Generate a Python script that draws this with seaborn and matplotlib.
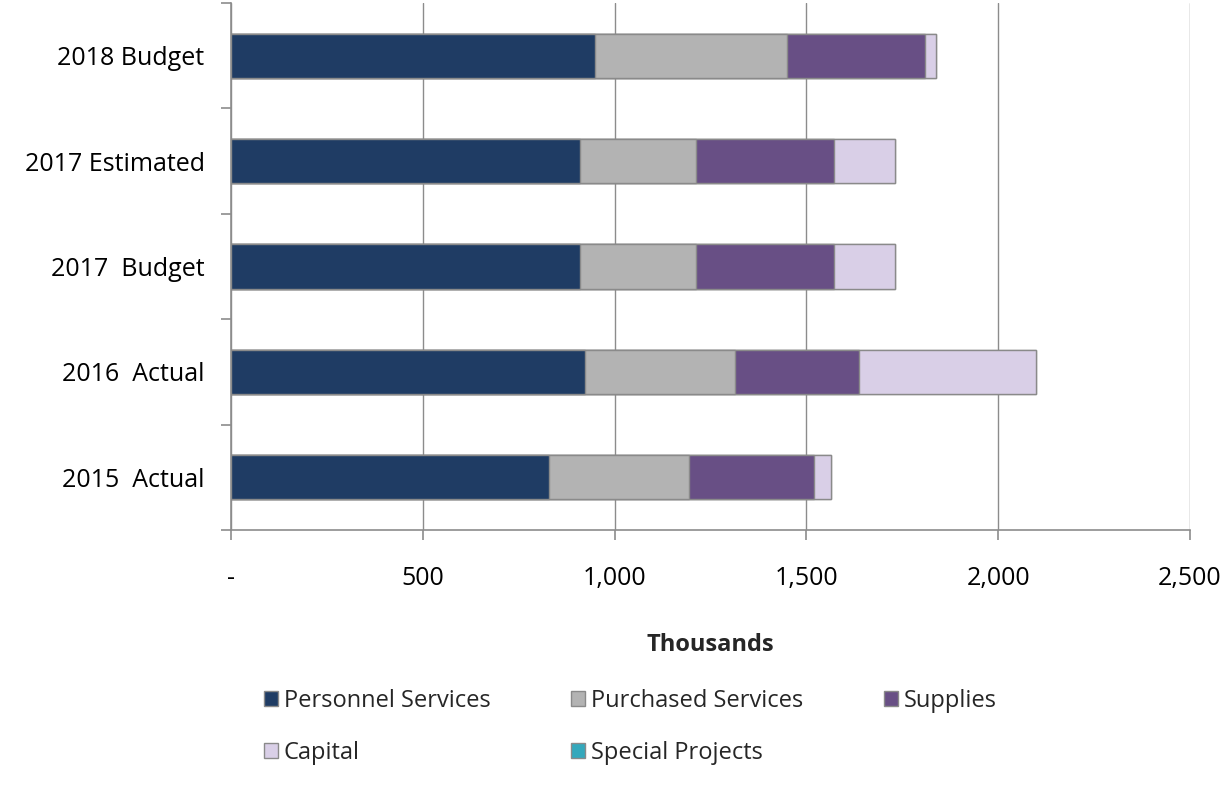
import numpy as np
import pandas as pd
import matplotlib
matplotlib.use("Agg")
import matplotlib.pyplot as plt
from matplotlib.patches import Patch
from matplotlib.ticker import FixedLocator, FuncFormatter
import seaborn as sns

# values in thousands
years = ["2018 Budget", "2017 Estimated", "2017  Budget", "2016  Actual", "2015  Actual"]
personnel = [948, 911, 911, 923, 828]
purchased = [501, 300, 300, 391, 366]
supplies = [361, 362, 362, 323, 327]
capital = [28, 157, 157, 462, 44]
special = [0, 0, 0, 0, 0]

series_names = ["Personnel Services", "Purchased Services", "Supplies", "Capital", "Special Projects"]
series_vals = [personnel, purchased, supplies, capital, special]
colors = ["#1f3c64", "#b3b3b3", "#684f85", "#d9cfe7", "#34a8bc"]

sns.set_style("white")
plt.rcParams["font.family"] = ["Open Sans", "DejaVu Sans"]

fig = plt.figure(figsize=(12.3, 7.9), dpi=100)
ax = fig.add_axes([231 / 1230, 1 - 530 / 790, (1190 - 231) / 1230, (530 - 3) / 790])

# stacked bars: draw running totals, outermost layer first
cum = np.cumsum(np.array(series_vals), axis=0)
for i in range(len(series_names) - 1, -1, -1):
    sns.barplot(x=cum[i], y=years, order=years, orient="h", color=colors[i],
                saturation=1, width=0.42, edgecolor="#8a8a8a", linewidth=1, ax=ax)

ax.set_xlim(0, 2500)
ax.set_ylim(4.5, -0.5)
ax.set_xticks([0, 500, 1000, 1500, 2000, 2500])
ax.xaxis.set_major_formatter(FuncFormatter(lambda v, p: "-" if v == 0 else f"{v:,.0f}"))
ax.xaxis.grid(True, color="#8c8c8c", linewidth=1)
ax.set_axisbelow(True)

for s in ["top", "right"]:
    ax.spines[s].set_visible(False)
for s in ["left", "bottom"]:
    ax.spines[s].set_color("#8c8c8c")
    ax.spines[s].set_linewidth(1.2)

ax.yaxis.set_minor_locator(FixedLocator(np.arange(-0.5, 5, 1)))
ax.tick_params(axis="y", which="major", length=0, pad=19, labelsize=18, labelcolor="black")
ax.tick_params(axis="y", which="minor", left=True, length=7, width=1.2, color="#8c8c8c")
ax.tick_params(axis="x", which="major", bottom=True, length=7, width=1.2, color="#8c8c8c",
               pad=19, labelsize=18, labelcolor="black")

ax.set_ylabel("")
ax.set_xlabel("Thousands", fontsize=17, fontweight="bold", labelpad=30)

handles = [Patch(facecolor=c, edgecolor="#8a8a8a", label=n) for c, n in zip(colors, series_names)]
# reorder so the 3-column legend fills row by row
order = [0, 3, 1, 4, 2]
fig.legend([handles[k] for k in order], [series_names[k] for k in order],
           loc="upper left", bbox_to_anchor=(252 / 1230, 1 - 677 / 790), ncol=3,
           frameon=False, fontsize=17, handlelength=0.6, handleheight=0.6,
           handletextpad=0.25, labelspacing=1.2, columnspacing=3.4, borderpad=0)

fig.savefig("out.png", dpi=100)
